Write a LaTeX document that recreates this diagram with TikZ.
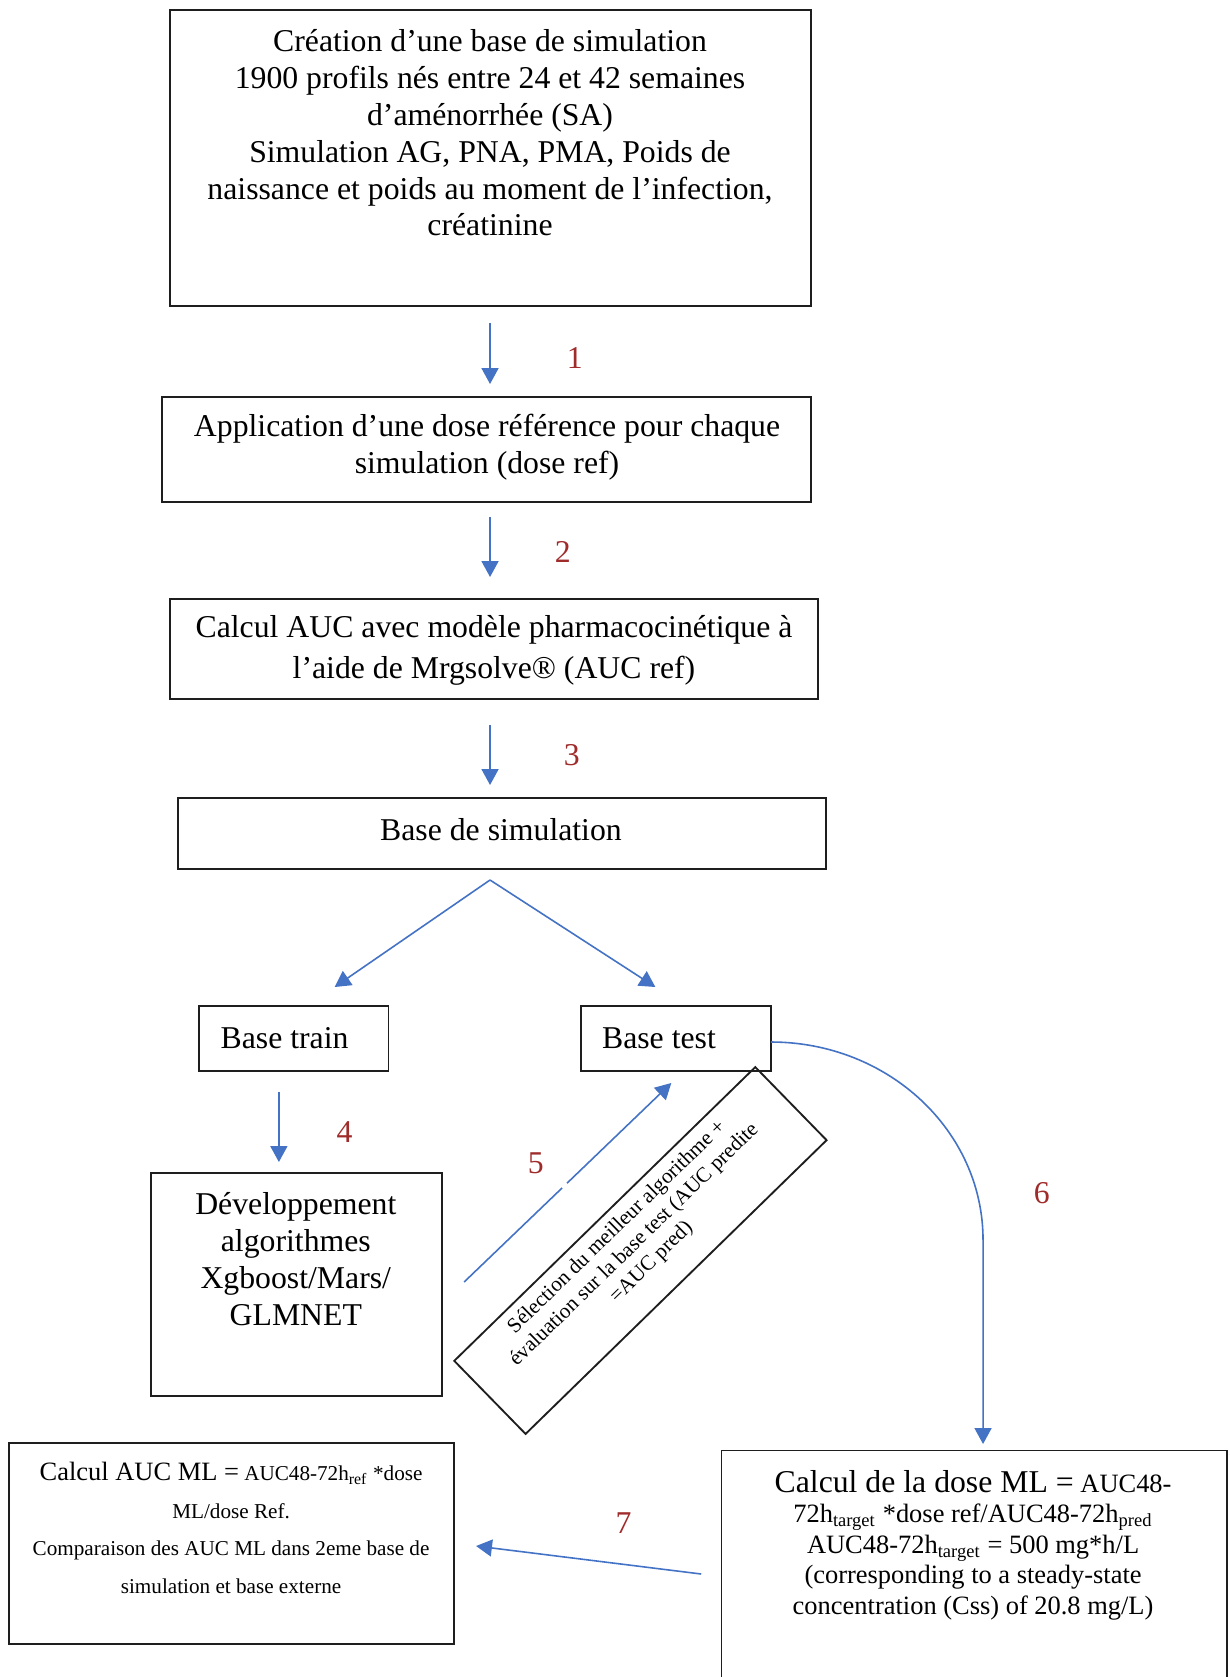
\documentclass[tikz,border=0pt]{standalone}
\usepackage{fontspec}
\setmainfont{Liberation Serif}
\usetikzlibrary{arrows.meta,fit}
\definecolor{arrblue}{RGB}{68,114,196}
\definecolor{numred}{RGB}{160,43,43}
\definecolor{boxline}{RGB}{30,30,30}
\begin{document}
\begin{tikzpicture}[x=0.378pt,y=-0.378pt,
  box/.style={draw=boxline, line width=0.7pt, inner sep=0pt},
  txt/.style={align=center, inner sep=0pt, font=\fontsize{12}{13.9}\selectfont},
  arr/.style={draw=arrblue, line width=0.6pt, -{Triangle[length=6pt,width=6.4pt]}},
  plain/.style={draw=arrblue, line width=0.6pt},
  num/.style={text=numred, inner sep=0pt, font=\fontsize{12}{14}\selectfont}]
\useasboundingbox (0,0) rectangle (1230,1677);
\fill[white] (0,0) rectangle (1230,1677);
\begin{scope}[xscale=0.996]
% boxes
\node[box, fit={(171,10) (814,306)}] (create) {};
\node[box, fit={(163,397) (814,502)}] (app) {};
\node[box, fit={(171,599) (821,699)}] (calc) {};
\node[box, fit={(179,798) (829,869)}] (base) {};
\node[box, fit={(200,1006) (390,1071)}] (train) {};
\node[box, fit={(583,1006) (774,1071)}] (test) {};
\node[box, fit={(152,1173) (444,1396)}] (dev) {};
\node[box, fit={(9,1443) (456,1644)}] (aucml) {};
\node[inner sep=0pt, fit={(725,1451) (1231,1700)}] (dose) {};
\draw[boxline, line width=0.7pt] (dose.south west) -- (dose.north west) -- (dose.north east) -- (dose.south east);
\node[box, rotate=44.3, minimum width=159pt, minimum height=38.6pt] (sel) at (643,1250.5) {};

% texts
\node[txt] (createtxt) at (492,133) {Création d’une base de simulation\\1900 profils nés entre 24 et 42 semaines\\d’aménorrhée (SA)\\Simulation AG, PNA, PMA, Poids de\\naissance et poids au moment de l’infection,\\créatinine};
\node[txt, font=\fontsize{12}{14}\selectfont] (apptxt) at (489,447) {Application d’une dose référence pour chaque\\simulation (dose ref)};
\node[txt, font=\fontsize{12}{15.5}\selectfont] (calctxt) at (496,650) {Calcul AUC avec modèle pharmacocinétique à\\l’aide de Mrgsolve® (AUC ref)};
\node[txt] (basetxt) at (503,830) {Base de simulation};
\node[txt, anchor=west] (traintxt) at (221,1038) {Base train};
\node[txt, anchor=west] (testtxt) at (604,1038) {Base test};
\node[txt] (devtxt) at (297,1259) {Développement\\algorithmes\\Xgboost/Mars/\\GLMNET};
\node[txt, font=\fontsize{8}{14.2}\selectfont] (aucmltxt) at (232,1528) {{\fontsize{10}{14.2}\selectfont Calcul AUC ML =} AUC48-72h\textsubscript{ref} *dose\\ML/dose Ref.\\Comparaison des AUC ML dans 2eme base de\\simulation et base externe};
\node[txt, font=\fontsize{10}{11.5}\selectfont] (dosetxt) at (977,1545) {{\fontsize{12}{11.5}\selectfont Calcul de la dose ML =} AUC48-\\72h\textsubscript{target} *dose ref/AUC48-72h\textsubscript{pred}\\AUC48-72h\textsubscript{target} = 500 mg*h/L\\(corresponding to a steady-state\\concentration (Css) of 20.8 mg/L)};
\node[rotate=44.3, align=center, inner sep=0pt, font=\fontsize{8}{9.3}\selectfont] (seltxt) at (637,1245) {Sélection du meilleur algorithme +\\évaluation sur la base test (AUC predite\\=AUC pred)};

% arrow end points
\coordinate (a1s) at (492,323); \coordinate (a1e) at (492,384);
\coordinate (a2s) at (492,517); \coordinate (a2e) at (492,577);
\coordinate (a3s) at (492,725); \coordinate (a3e) at (492,785);
\coordinate (split) at (492,880);
\coordinate (tl) at (336,987); \coordinate (tr) at (658,987);
\coordinate (a4s) at (280,1092); \coordinate (a4e) at (280,1162);
\coordinate (a5s) at (466,1282); \coordinate (a5m) at (564.3,1188.0);
\coordinate (a5n) at (569.3,1183.2); \coordinate (a5e) at (674,1083);
\coordinate (a6s) at (774,1042); \coordinate (a6m) at (987,1240); \coordinate (a6e) at (987,1444);
\coordinate (a7s) at (704,1574); \coordinate (a7e) at (478,1546);

% connectors
\draw[arr] (a1s) -- (a1e);
\draw[arr] (a2s) -- (a2e);
\draw[arr] (a3s) -- (a3e);
\draw[arr] (split) -- (tl);
\draw[arr] (split) -- (tr);
\draw[arr] (a4s) -- (a4e);
\draw[plain] (a5s) -- (a5m);
\draw[arr] (a5n) -- (a5e);
\draw[arr] (a6s) .. controls (891.6,1042) and (987,1130.6) .. (a6m) -- (a6e);
\draw[arr] (a7s) -- (a7e);

% step numbers
\node[num] (n1) at (577,358) {1};
\node[num] (n2) at (565,552) {2};
\node[num] (n3) at (574,755) {3};
\node[num] (n4) at (346,1132) {4};
\node[num] (n5) at (538,1163) {5};
\node[num] (n6) at (1046,1193) {6};
\node[num] (n7) at (626,1523) {7};
\end{scope}
\end{tikzpicture}
\end{document}
